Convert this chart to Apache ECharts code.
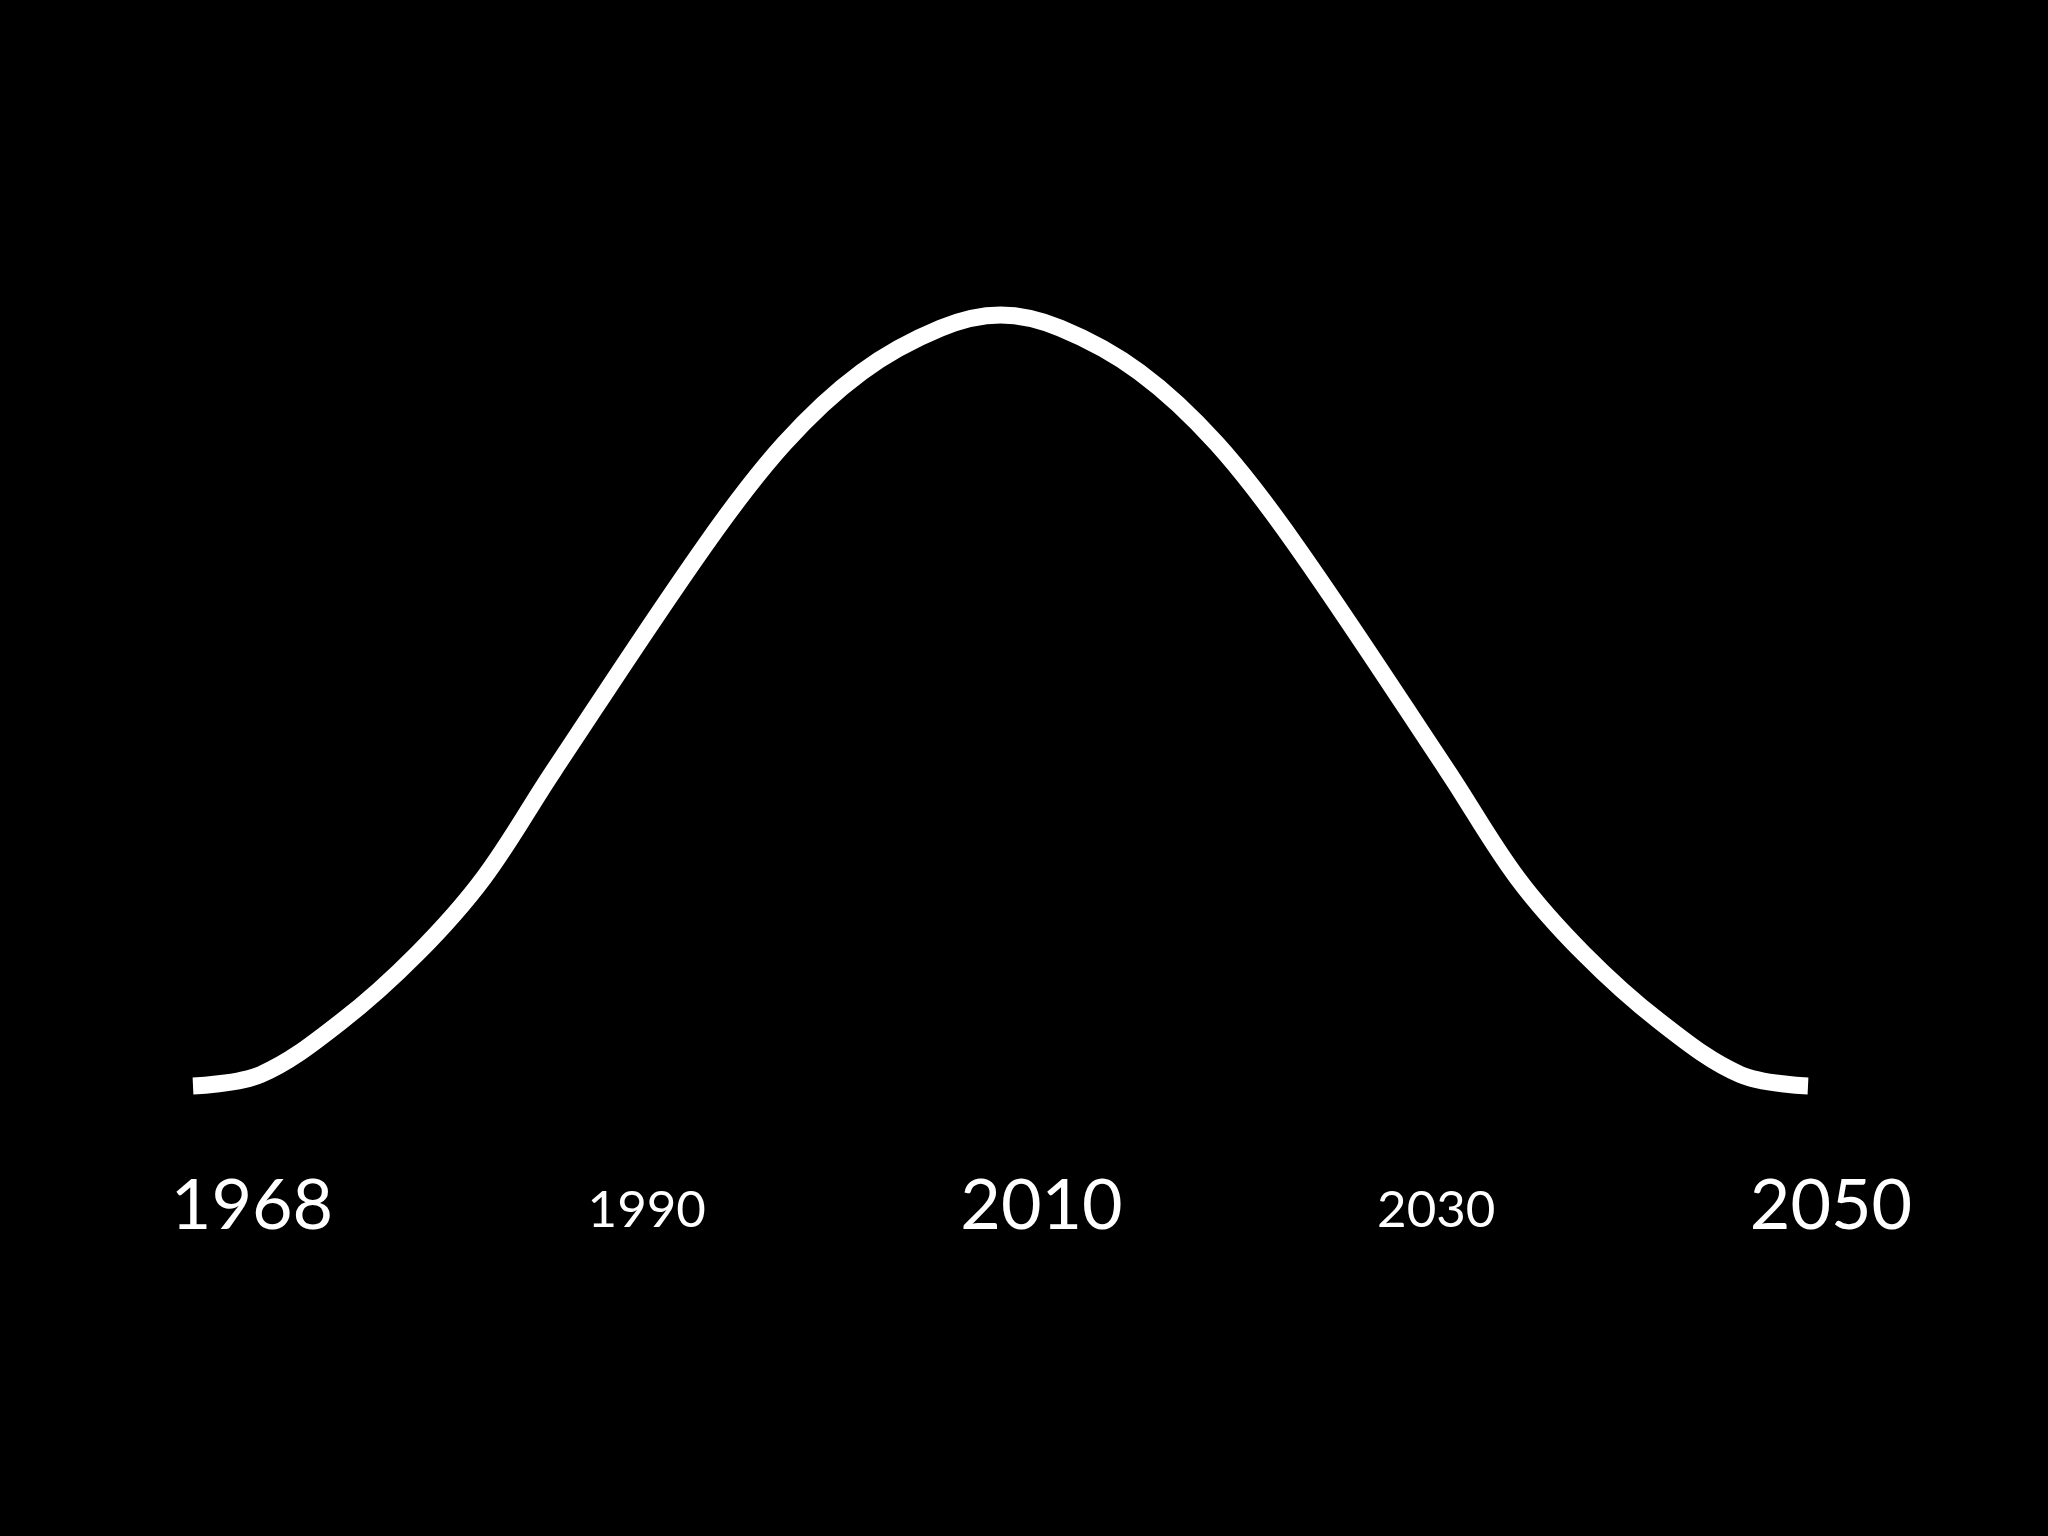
<!DOCTYPE html>
<html>
<head>
<meta charset="utf-8">
<script src="https://cdn.jsdelivr.net/npm/echarts@6/dist/echarts.min.js"></script>
<style>
html,body{margin:0;padding:0;background:#000;}
#chart{width:2048px;height:1536px;}
</style>
</head>
<body>
<div id="chart"></div>
<script>
// Tick labels along the bottom
const yearLabels = ['1968', '1990', '2010', '2030', '2050'];
const labelEmphasis = ['big', 'small', 'big', 'small', 'big'];

// Curve: position along the time span (0-100) and height (0-100, peak = 100)
const curveX = [0, 4.2, 9.2, 13.9, 18.0, 22.3, 31.7, 36.6, 41.4, 46.3, 50,
                53.7, 58.6, 63.4, 68.3, 77.7, 82.0, 86.1, 90.8, 95.8, 100];
const curveY = [0, 1.5, 8.4, 17.2, 27.0, 40.8, 70.1, 83.3, 92.6, 98.3, 100,
                98.3, 92.6, 83.3, 70.1, 40.8, 27.0, 17.2, 8.4, 1.5, 0];

const curveData = curveX.map((x, i) => [x, curveY[i]]);

const chart = echarts.init(document.getElementById('chart'), null, {renderer: 'canvas'});
chart.setOption({
  backgroundColor: '#000000',
  animation: false,
  grid: [
    {left: 193, right: 240, top: 315, bottom: 450},
    {left: 252, right: 217, top: 1240, height: 10}
  ],
  xAxis: [
    {type: 'value', gridIndex: 0, min: 0, max: 100, show: false},
    {
      type: 'category', gridIndex: 1, position: 'top', boundaryGap: false,
      data: yearLabels,
      axisLine: {show: false}, axisTick: {show: false}, splitLine: {show: false},
      axisLabel: {
        show: true, margin: 4, interval: 0,
        formatter: function (v, i) { return '{' + labelEmphasis[i] + '|' + v + '}'; },
        rich: {
          big: {fontFamily: 'Lato', fontSize: 70, lineHeight: 60, color: '#ffffff'},
          small: {fontFamily: 'Lato', fontSize: 51, lineHeight: 51, color: '#ffffff'}
        }
      }
    }
  ],
  yAxis: [
    {type: 'value', gridIndex: 0, min: 0, max: 100, show: false},
    {type: 'value', gridIndex: 1, show: false}
  ],
  series: [{
    type: 'line',
    xAxisIndex: 0, yAxisIndex: 0,
    data: curveData,
    smooth: 0.35,
    showSymbol: false,
    clip: false,
    lineStyle: {color: '#ffffff', width: 17, cap: 'butt', join: 'round'}
  }]
});
</script>
</body>
</html>
